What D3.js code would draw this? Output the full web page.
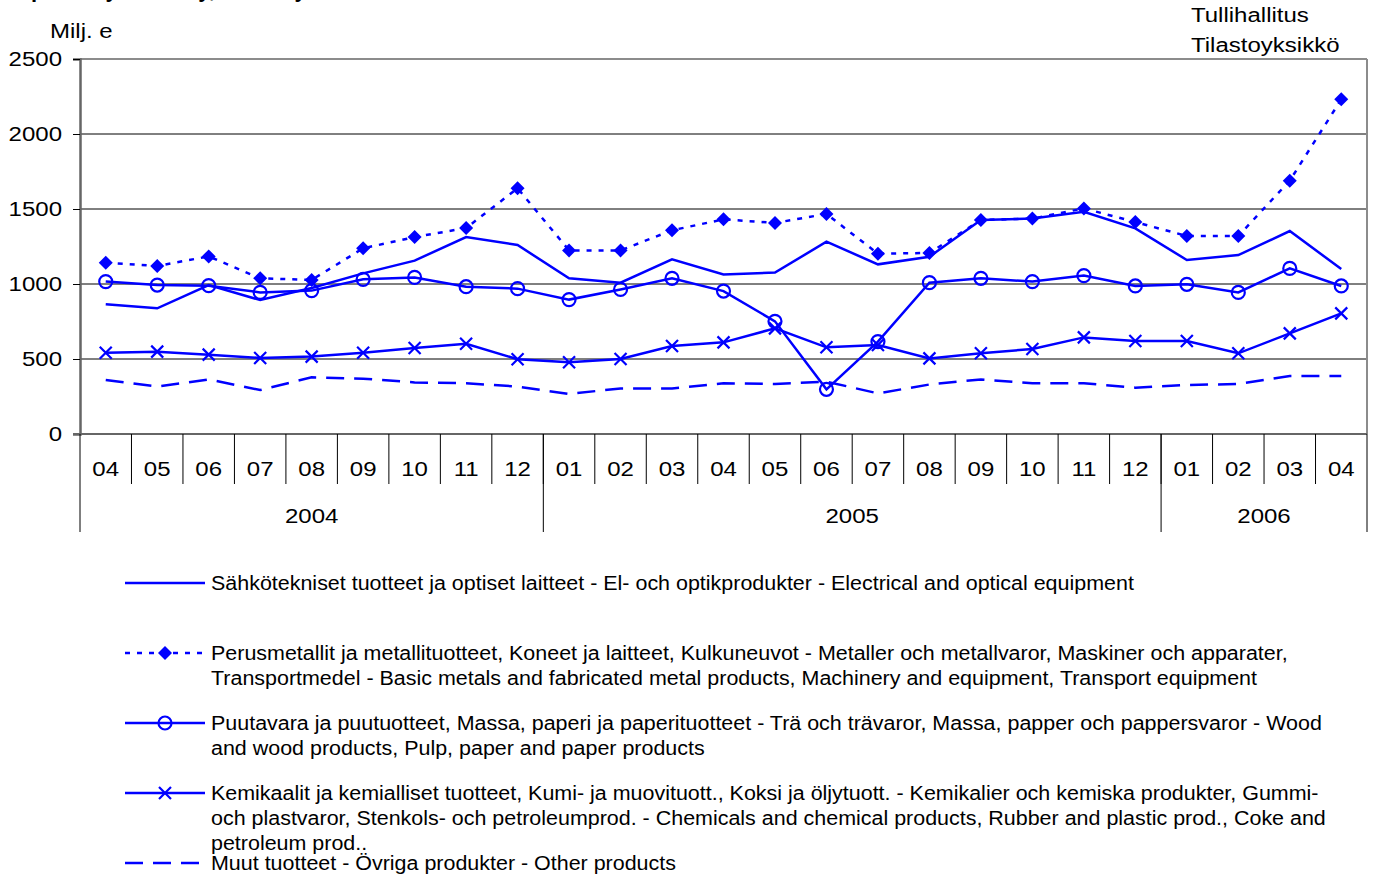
<!DOCTYPE html>
<html>
<head>
<meta charset="utf-8">
<script src="https://cdn.jsdelivr.net/npm/d3@7"></script>
<style>
  body { margin: 0; background: #fff; }
  text { font-family: "Liberation Sans", Arial, sans-serif; fill: #000; }
</style>
</head>
<body>
<svg width="1377" height="876"></svg>
<script>
// kuukaudet 04/2004 - 04/2006
const months = ['04','05','06','07','08','09','10','11','12','01','02','03','04','05','06','07','08','09','10','11','12','01','02','03','04'];
const years = [
  { label: '2004', from: 0, to: 9 },
  { label: '2005', from: 9, to: 21 },
  { label: '2006', from: 21, to: 25 }
];
const yTicks = [0, 500, 1000, 1500, 2000, 2500];

const electrical = [865, 838, 993, 893, 973, 1071, 1156, 1313, 1260, 1038, 1009, 1164, 1064, 1076, 1282, 1131, 1182, 1427, 1436, 1482, 1371, 1160, 1193, 1353, 1100];
const metals = [1142, 1120, 1184, 1038, 1027, 1238, 1313, 1373, 1638, 1224, 1224, 1358, 1431, 1407, 1467, 1202, 1207, 1427, 1436, 1504, 1413, 1320, 1320, 1689, 2231];
const wood = [1016, 993, 989, 944, 956, 1031, 1044, 982, 969, 896, 964, 1038, 953, 751, 298, 616, 1009, 1038, 1016, 1056, 987, 998, 944, 1104, 987];
const chemicals = [542, 549, 529, 507, 516, 542, 573, 602, 498, 478, 500, 587, 611, 704, 578, 593, 504, 538, 567, 644, 620, 620, 538, 671, 804];
const other = [360, 316, 364, 293, 378, 369, 344, 338, 316, 267, 304, 304, 338, 333, 349, 271, 330, 364, 338, 338, 309, 327, 333, 387, 387];

const legendLines = [
  ['Sähkötekniset tuotteet ja optiset laitteet - El- och optikprodukter - Electrical and optical equipment'],
  ['Perusmetallit ja metallituotteet, Koneet ja laitteet, Kulkuneuvot - Metaller och metallvaror, Maskiner och apparater,',
   'Transportmedel - Basic metals and fabricated metal products, Machinery and equipment, Transport equipment'],
  ['Puutavara ja puutuotteet, Massa, paperi ja paperituotteet - Trä och trävaror, Massa, papper och pappersvaror - Wood',
   'and wood products, Pulp, paper and paper products'],
  ['Kemikaalit ja kemialliset tuotteet, Kumi- ja muovituott., Koksi ja öljytuott. - Kemikalier och kemiska produkter, Gummi-',
   'och plastvaror, Stenkols- och petroleumprod. - Chemicals and chemical products, Rubber and plastic prod., Coke and',
   'petroleum prod..'],
  ['Muut tuotteet - Övriga produkter - Other products']
];

const series = [
  { values: electrical, dash: null, marker: null, legendY: 583 },
  { values: metals, dash: '5,7', marker: 'diamond', legendY: 653 },
  { values: wood, dash: null, marker: 'circle', legendY: 723 },
  { values: chemicals, dash: null, marker: 'cross', legendY: 793 },
  { values: other, dash: '18,10', marker: null, legendY: 863 }
];

const blue = '#0000ff';
const svg = d3.select('svg');

const plotLeft = 80, plotRight = 1367, plotTop = 59, plotBottom = 434;

const x = d3.scaleBand().domain(d3.range(months.length)).range([plotLeft, plotRight]);
const y = d3.scaleLinear().domain([0, 2500]).range([plotBottom, plotTop]);

// leveämpi fontti: venytetään tekstiä vaakasuunnassa
function stretch(sel, k) {
  sel.each(function () {
    const w = this.getComputedTextLength();
    d3.select(this).attr('textLength', w * k).attr('lengthAdjust', 'spacingAndGlyphs');
  });
}

// otsikko (leikattu yläreunasta)
svg.append('text')
  .attr('x', 4).attr('y', -3)
  .attr('font-size', 22).attr('font-weight', 'bold')
  .text('Exports by industry, monthly values');

svg.append('text').attr('class', 'wide').attr('x', 50).attr('y', 38).attr('font-size', 20).text('Milj. e');
svg.append('text').attr('class', 'wide').attr('x', 1191).attr('y', 22).attr('font-size', 20).text('Tullihallitus');
svg.append('text').attr('class', 'wide').attr('x', 1191).attr('y', 52).attr('font-size', 20).text('Tilastoyksikkö');

// ruudukko
svg.append('g')
  .selectAll('line')
  .data(yTicks.filter(d => d > 0 && d < 2500))
  .join('line')
  .attr('x1', plotLeft).attr('x2', plotRight)
  .attr('y1', d => y(d)).attr('y2', d => y(d))
  .attr('stroke', '#000').attr('stroke-width', 1);

// kehys
svg.append('line').attr('x1', plotLeft).attr('x2', plotRight).attr('y1', y(2500)).attr('y2', y(2500))
  .attr('stroke', '#8c8c8c').attr('stroke-width', 2);
svg.append('line').attr('x1', plotRight).attr('x2', plotRight).attr('y1', plotTop).attr('y2', plotBottom)
  .attr('stroke', '#8c8c8c').attr('stroke-width', 2);

// y-akseli
const yAxis = svg.append('g')
  .attr('transform', `translate(${plotLeft},0)`)
  .call(d3.axisLeft(y).tickValues(yTicks).tickFormat(d3.format('d')).tickSize(7).tickPadding(11));
yAxis.select('.domain').attr('stroke', '#666').attr('stroke-width', 2.5);
yAxis.selectAll('.tick line').attr('stroke', '#000');
yAxis.selectAll('.tick text').attr('class', 'wide').attr('font-size', 20).attr('font-family', '"Liberation Sans", Arial, sans-serif');

// x-akseli
svg.append('line').attr('x1', plotLeft - 7).attr('x2', plotRight).attr('y1', plotBottom).attr('y2', plotBottom)
  .attr('stroke', '#666').attr('stroke-width', 2);

const xg = svg.append('g');
xg.selectAll('line.sep')
  .data(d3.range(1, months.length))
  .join('line')
  .attr('x1', d => x(d)).attr('x2', d => x(d))
  .attr('y1', plotBottom).attr('y2', plotBottom + 50)
  .attr('stroke', '#000').attr('stroke-width', 1);
xg.selectAll('text.m')
  .data(months)
  .join('text')
  .attr('class', 'wide')
  .attr('x', (d, i) => x(i) + x.bandwidth() / 2)
  .attr('y', 476)
  .attr('text-anchor', 'middle')
  .attr('font-size', 20)
  .text(d => d);

const yearEdges = [0].concat(years.map(d => d.to));
xg.selectAll('line.year')
  .data(yearEdges)
  .join('line')
  .attr('x1', d => d === months.length ? plotRight : x(d)).attr('x2', d => d === months.length ? plotRight : x(d))
  .attr('y1', plotBottom).attr('y2', 532)
  .attr('stroke', '#000').attr('stroke-width', 1);
xg.selectAll('text.yr')
  .data(years)
  .join('text')
  .attr('class', 'wide')
  .attr('x', d => (x(d.from) + (d.to === months.length ? plotRight : x(d.to))) / 2)
  .attr('y', 523)
  .attr('text-anchor', 'middle')
  .attr('font-size', 20)
  .text(d => d.label);

// viivat
const line = d3.line().x((d, i) => x(i) + x.bandwidth() / 2).y(d => y(d));

function drawMarker(g, type, cx, cy) {
  if (type === 'diamond') {
    g.append('path')
      .attr('d', `M${cx},${cy - 7}L${cx + 7},${cy}L${cx},${cy + 7}L${cx - 7},${cy}Z`)
      .attr('fill', blue);
  } else if (type === 'circle') {
    g.append('circle').attr('cx', cx).attr('cy', cy).attr('r', 6.5)
      .attr('fill', 'none').attr('stroke', blue).attr('stroke-width', 2.2);
  } else if (type === 'cross') {
    g.append('path')
      .attr('d', `M${cx - 6},${cy - 6}L${cx + 6},${cy + 6}M${cx - 6},${cy + 6}L${cx + 6},${cy - 6}`)
      .attr('stroke', blue).attr('stroke-width', 2.2);
  }
}

series.forEach(s => {
  const g = svg.append('g');
  g.append('path')
    .datum(s.values)
    .attr('d', line)
    .attr('fill', 'none')
    .attr('stroke', blue)
    .attr('stroke-width', 2.5)
    .attr('stroke-dasharray', s.dash);
  if (s.marker) {
    s.values.forEach((v, i) => drawMarker(g, s.marker, x(i) + x.bandwidth() / 2, y(v)));
  }
});

// selite
series.forEach((s, k) => {
  const g = svg.append('g');
  g.append('line')
    .attr('x1', 125).attr('x2', 205)
    .attr('y1', s.legendY).attr('y2', s.legendY)
    .attr('stroke', blue).attr('stroke-width', 2.5)
    .attr('stroke-dasharray', s.dash);
  if (s.marker) drawMarker(g, s.marker, 165, s.legendY);
  legendLines[k].forEach((l, j) => {
    g.append('text')
      .attr('class', 'legend')
      .attr('x', 211).attr('y', s.legendY + 7 + j * 25)
      .attr('font-size', 19.5)
      .text(l);
  });
});

stretch(svg.selectAll('text.wide'), 1.2);
stretch(svg.selectAll('text.legend'), 1.1);
</script>
</body>
</html>
